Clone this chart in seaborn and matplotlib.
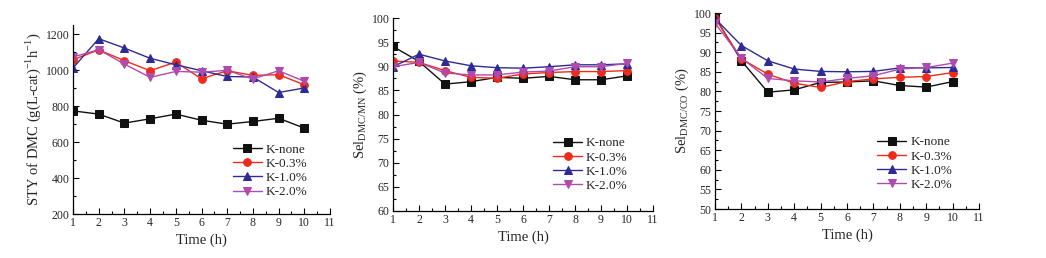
"""recreate the three K-loading stability panels"""

import seaborn as sns
import matplotlib.pyplot as plt
from matplotlib.ticker import MultipleLocator

sns.set_theme(style="ticks")
plt.rcParams["font.family"] = ["Liberation Serif", "DejaVu Serif"]
plt.rcParams["mathtext.fontset"] = "custom"
plt.rcParams["mathtext.rm"] = "Liberation Serif"

time_h = [1, 2, 3, 4, 5, 6, 7, 8, 9, 10]
labels = ["K-none", "K-0.3%", "K-1.0%", "K-2.0%"]

# STY of DMC
sty_none = [773, 755, 705, 729, 755, 721, 699, 714, 732, 677]
sty_03 = [1057, 1112, 1052, 996, 1044, 951, 996, 970, 974, 918]
sty_10 = [1011, 1174, 1122, 1065, 1029, 996, 964, 961, 875, 900]
sty_20 = [1072, 1113, 1033, 959, 992, 988, 998, 950, 996, 937]

# selectivity DMC/MN
mn_none = [94.1, 91.0, 86.3, 86.8, 87.7, 87.5, 87.9, 87.2, 87.2, 88.0]
mn_03 = [91.1, 90.8, 89.1, 87.7, 87.5, 88.4, 88.7, 88.9, 88.9, 89.1]
mn_10 = [89.9, 92.5, 91.1, 90.1, 89.7, 89.6, 89.9, 90.3, 90.3, 90.5]
mn_20 = [89.9, 90.8, 88.6, 88.2, 88.2, 88.8, 89.0, 89.9, 89.9, 90.6]

# selectivity DMC/CO
co_none = [99.0, 87.8, 79.8, 80.4, 82.3, 82.4, 82.7, 81.5, 81.1, 82.5]
co_03 = [98.7, 88.3, 84.4, 82.1, 81.0, 82.5, 83.2, 83.6, 83.8, 84.8]
co_10 = [98.6, 91.7, 87.8, 85.7, 85.1, 85.0, 85.1, 86.0, 86.0, 86.1]
co_20 = [97.4, 88.5, 83.3, 82.7, 82.4, 83.3, 84.0, 85.7, 86.1, 87.2]

colors = ["#111111", "#ee2a1a", "#2e2a94", "#b04aae"]
markers = ["s", "o", "^", "v"]

fig = plt.figure(figsize=(10.46, 2.58), dpi=100)
axes = [
    fig.add_axes([0.0698, 0.1705, 0.2457, 0.7326]),
    fig.add_axes([0.3757, 0.1822, 0.2486, 0.7480]),
    fig.add_axes([0.6836, 0.1899, 0.2524, 0.7597]),
]

panels = [
    ([sty_none, sty_03, sty_10, sty_20], (200, 1250), 200, 100,
     r"STY of DMC (g(L-cat)$^{-1}$h$^{-1}$)", (0.585, 0.035)),
    ([mn_none, mn_03, mn_10, mn_20], (60, 100), 5, 2.5,
     r"Sel$_{\mathrm{DMC/MN}}$ (%)", (0.58, 0.05)),
    ([co_none, co_03, co_10, co_20], (50, 100), 5, 2.5,
     r"Sel$_{\mathrm{DMC/CO}}$ (%)", (0.58, 0.045)),
]

for ax, (series, ylim, major, minor, ylabel, loc) in zip(axes, panels):
    for vals, lab, c, m in zip(series, labels, colors, markers):
        sns.lineplot(x=time_h, y=vals, ax=ax, color=c, marker=m, markersize=5.5,
                     markeredgecolor=c, linewidth=1.0, label=lab)
    ax.set_xlim(1, 11)
    ax.set_ylim(*ylim)
    ax.xaxis.set_major_locator(MultipleLocator(1))
    ax.xaxis.set_minor_locator(MultipleLocator(0.5))
    ax.yaxis.set_major_locator(MultipleLocator(major))
    ax.yaxis.set_minor_locator(MultipleLocator(minor))
    ax.tick_params(which="both", direction="in", labelsize=8.5, pad=2.5,
                   width=0.8, color="black")
    ax.tick_params(which="major", length=4)
    ax.tick_params(which="minor", length=2)
    sns.despine(ax=ax)
    for s in ["left", "bottom"]:
        ax.spines[s].set_color("black")
        ax.spines[s].set_linewidth(0.9)
    ax.set_xlabel("Time (h)", fontsize=10.5, labelpad=3)
    ax.set_ylabel(ylabel, fontsize=10.5, labelpad=2)
    ax.legend(loc="lower left", bbox_to_anchor=loc, frameon=False,
              fontsize=9.5, handlelength=2.2, handletextpad=0.3,
              labelspacing=0.15, borderpad=0.2)

fig.savefig("out.png", dpi=100)
